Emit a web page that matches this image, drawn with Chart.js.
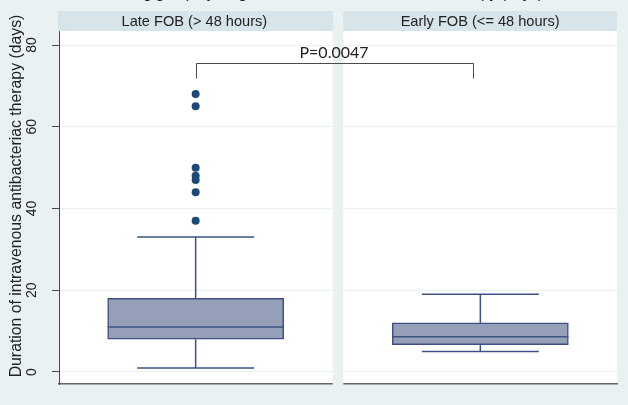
<!DOCTYPE html>
<html>
<head>
<meta charset="utf-8">
<script src="https://cdn.jsdelivr.net/npm/chart.js@4.4.1/dist/chart.umd.min.js"></script>
<style>
  html, body { margin: 0; padding: 0; background: #EAF1F3; }
  #wrap { position: relative; width: 628px; height: 405px; overflow: hidden; background: #EAF1F3; }
  #topTitle { position: absolute; left: 0; width: 650px; top: -16px; text-align: center;
    font: 15px "Liberation Sans", Arial, sans-serif; line-height: 17px; color: #222; white-space: nowrap; }
  canvas { position: absolute; left: 0; top: 0; }
</style>
</head>
<body>
<div id="wrap">
  <div id="topTitle">Timing group by length of intravenous antibacterial therapy (days)</div>
  <canvas id="c" width="628" height="405"></canvas>
</div>
<script>
// ---- data ----
const categories = ['Late FOB (> 48 hours)', 'Early FOB (<= 48 hours)'];
const lowerWhisker = [1, 5];
const q1 = [8, 6.7];
const median = [11, 8.6];
const q3 = [18, 12];
const upperWhisker = [33, 19];
const outliersLate = [37, 44, 47, 48, 50, 65, 68];
const outliersEarly = [];
const yTicks = [0, 20, 40, 60, 80];
const yTitle = 'Duration of intravenous antibacteriac therapy (days)';
const pValueLabel = 'P=0.0047';
const bracketLevel = 75.5;
const bracketTickEnd = 71.8;

// ---- styles ----
const boxFill = '#95A0B8';
const boxLine = '#3D5183';
const dotColor = '#1B4A78';
const stripColor = '#D7E4EA';
const bgColor = '#EAF1F3';
const textColor = '#222222';
const FONT = '"Liberation Sans", Arial, sans-serif';

const boxData = categories.map((c, i) => ({ x: i, y: [q1[i], q3[i]] }));
const outlierData = [
  ...outliersLate.map(v => ({ x: 0, y: v })),
  ...outliersEarly.map(v => ({ x: 1, y: v }))
];

const GAP = 10.5;

const panelPlugin = {
  id: 'panels',
  beforeDraw(chart) {
    const { ctx, chartArea: a, scales: { x } } = chart;
    const mid = x.getPixelForValue(0.5);
    ctx.save();
    ctx.fillStyle = '#FFFFFF';
    ctx.fillRect(a.left, a.top, a.right - a.left, a.bottom - a.top);
    ctx.fillStyle = stripColor;
    ctx.fillRect(a.left - 1, 11, mid - GAP / 2 - (a.left - 1), a.top - 11);
    ctx.fillRect(mid + GAP / 2, 11, a.right - (mid + GAP / 2), a.top - 11);
    ctx.fillStyle = textColor;
    ctx.font = '14.6px ' + FONT;
    ctx.textAlign = 'center';
    ctx.textBaseline = 'middle';
    const lc = (a.left - 1 + mid - GAP / 2) / 2;
    const rc = (mid + GAP / 2 + a.right) / 2;
    ctx.fillText(categories[0], lc - 1, 21.5);
    ctx.fillText(categories[1], rc, 21.5);
    ctx.restore();
  },
  beforeDatasetsDraw(chart) {
    const { ctx, chartArea: a, scales: { x } } = chart;
    const mid = x.getPixelForValue(0.5);
    ctx.save();
    ctx.fillStyle = bgColor;
    ctx.fillRect(mid - GAP / 2, a.top, GAP, a.bottom - a.top + 3);
    ctx.restore();
  },
  afterDatasetsDraw(chart) {
    const { ctx, scales: { x, y } } = chart;
    ctx.save();
    ctx.strokeStyle = boxLine;
    ctx.lineWidth = 1.5;
    const boxW = 176, capW = 117;
    categories.forEach((c, i) => {
      const cx = x.getPixelForValue(i);
      ctx.beginPath();
      ctx.moveTo(cx - boxW / 2, y.getPixelForValue(median[i]));
      ctx.lineTo(cx + boxW / 2, y.getPixelForValue(median[i]));
      ctx.moveTo(cx, y.getPixelForValue(q3[i]));
      ctx.lineTo(cx, y.getPixelForValue(upperWhisker[i]));
      ctx.moveTo(cx, y.getPixelForValue(q1[i]));
      ctx.lineTo(cx, y.getPixelForValue(lowerWhisker[i]));
      ctx.moveTo(cx - capW / 2, y.getPixelForValue(upperWhisker[i]));
      ctx.lineTo(cx + capW / 2, y.getPixelForValue(upperWhisker[i]));
      ctx.moveTo(cx - capW / 2, y.getPixelForValue(lowerWhisker[i]));
      ctx.lineTo(cx + capW / 2, y.getPixelForValue(lowerWhisker[i]));
      ctx.stroke();
    });
    const xl = x.getPixelForValue(0), xr = x.getPixelForValue(0.974);
    const yb = Math.round(y.getPixelForValue(bracketLevel)) + 0.5;
    const yt = y.getPixelForValue(bracketTickEnd);
    ctx.strokeStyle = '#4A4A4A';
    ctx.lineWidth = 1;
    ctx.beginPath();
    ctx.moveTo(Math.round(xl) + 0.5, yt);
    ctx.lineTo(Math.round(xl) + 0.5, yb);
    ctx.lineTo(Math.round(xr) + 0.5, yb);
    ctx.lineTo(Math.round(xr) + 0.5, yt);
    ctx.stroke();
    ctx.fillStyle = textColor;
    ctx.font = '16px Lato, "Liberation Sans", sans-serif';
    ctx.textAlign = 'center';
    ctx.textBaseline = 'alphabetic';
    ctx.fillText(pValueLabel, (xl + x.getPixelForValue(1)) / 2 - 4, yb - 6);
    ctx.restore();
  },
  afterDraw(chart) {
    const { ctx, scales: { y } } = chart;
    ctx.save();
    ctx.fillStyle = textColor;
    ctx.textAlign = 'center';
    ctx.textBaseline = 'middle';
    ctx.font = '14px ' + FONT;
    yTicks.forEach(v => {
      ctx.save();
      ctx.translate(32, y.getPixelForValue(v));
      ctx.rotate(-Math.PI / 2);
      ctx.fillText(String(v), 0, 0);
      ctx.restore();
    });
    ctx.font = '15.8px ' + FONT;
    ctx.translate(17, 196);
    ctx.rotate(-Math.PI / 2);
    ctx.fillText(yTitle, 0, 0);
    ctx.restore();
  }
};

new Chart(document.getElementById('c'), {
  data: {
    datasets: [
      {
        type: 'bar',
        data: boxData,
        backgroundColor: boxFill,
        borderColor: boxLine,
        borderWidth: 1.5,
        borderSkipped: false,
        barThickness: 176,
        order: 2
      },
      {
        type: 'scatter',
        data: outlierData,
        pointRadius: 4,
        pointHoverRadius: 4,
        pointBackgroundColor: dotColor,
        pointBorderColor: dotColor,
        pointBorderWidth: 0,
        order: 1
      }
    ]
  },
  options: {
    responsive: false,
    animation: false,
    events: [],
    layout: { padding: { top: 31, right: 11, bottom: 21, left: 0 } },
    plugins: { legend: { display: false }, tooltip: { enabled: false }, title: { display: false } },
    scales: {
      x: {
        type: 'linear',
        offset: false,
        min: -0.48,
        max: 1.48,
        ticks: { display: false },
        grid: { display: false, drawTicks: false, offset: false },
        border: { display: true, color: '#666666', width: 1.5 },
        afterFit(s) { s.height = 0; }
      },
      y: {
        type: 'linear',
        min: -2.94,
        max: 83.43,
        afterBuildTicks(s) { s.ticks = yTicks.map(v => ({ value: v })); },
        ticks: { display: false },
        grid: { color: '#EAF1F3', lineWidth: 1, drawTicks: true, tickLength: 7, tickColor: '#4A4A4A' },
        border: { display: true, color: '#4A4A4A', width: 1 },
        afterFit(s) { s.width = 59; }
      }
    }
  },
  plugins: [panelPlugin]
});
</script>
</body>
</html>
